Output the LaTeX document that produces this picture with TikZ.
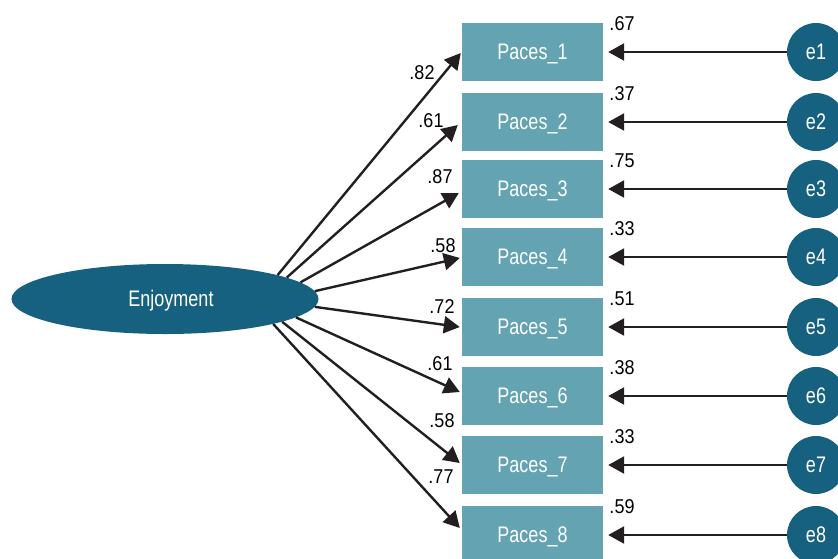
\documentclass[tikz,border=0pt]{standalone}
\usepackage{fontspec}
\setmainfont[FakeStretch=0.8]{Liberation Sans}
\newfontfamily\numfont[FakeStretch=0.9]{Liberation Sans}
\usetikzlibrary{arrows.meta,shapes.geometric}
\definecolor{boxfill}{RGB}{99,163,178}
\definecolor{darkteal}{RGB}{22,96,128}
\definecolor{linec}{RGB}{35,31,32}
\begin{document}
\begin{tikzpicture}[x=1pt,y=1pt,
  wtext/.style={text=white, font=\fontsize{22.5}{26}\selectfont, text height=15.5pt, text depth=0pt},
  obs/.style={rectangle, fill=boxfill, minimum width=141pt, minimum height=58pt, inner sep=0pt, wtext},
  err/.style={circle, fill=darkteal, minimum size=58pt, inner sep=0pt, wtext},
  latent/.style={ellipse, fill=darkteal, minimum width=307pt, minimum height=70pt, inner sep=0pt, wtext},
  pathline/.style={draw=linec, line width=2.4pt, -{Triangle[length=16pt,width=17pt]}},
  coef/.style={font=\numfont\fontsize{20}{24}\selectfont, text=black, inner sep=0pt}
]
\useasboundingbox (0,0) rectangle (838,-558);

\node[latent] (enj) at (165,-299) {\hspace*{12pt}Enjoyment};

\node[obs] (p1) at (532.5,-52) {Paces\_1};
\node[obs] (p2) at (532.5,-122) {Paces\_2};
\node[obs] (p3) at (532.5,-189) {Paces\_3};
\node[obs] (p4) at (532.5,-257) {Paces\_4};
\node[obs] (p5) at (532.5,-327) {Paces\_5};
\node[obs] (p6) at (532.5,-396) {Paces\_6};
\node[obs] (p7) at (532.5,-465) {Paces\_7};
\node[obs] (p8) at (532.5,-535) {Paces\_8};

\node[err] (e1) at (816,-52) {e1};
\node[err] (e2) at (816,-122) {e2};
\node[err] (e3) at (816,-189) {e3};
\node[err] (e4) at (816,-257) {e4};
\node[err] (e5) at (816,-327) {e5};
\node[err] (e6) at (816,-396) {e6};
\node[err] (e7) at (816,-465) {e7};
\node[err] (e8) at (816,-535) {e8};

\draw[pathline] (enj.12.5) -- ([xshift=-1pt,yshift=-1pt]p1.west);
\draw[pathline] (enj.10.6) -- ([xshift=-4pt,yshift=-3pt]p2.west);
\draw[pathline] (enj.7.3) -- ([xshift=-3pt,yshift=-4pt]p3.west);
\draw[pathline] (enj.3.05) -- ([xshift=-2pt,yshift=-1pt]p4.west);
\draw[pathline] (enj.-3.4) -- ([xshift=-2pt]p5.west);
\draw[pathline] (enj.-8.3) -- ([xshift=-2pt,yshift=4pt]p6.west);
\draw[pathline] (enj.-11.1) -- ([xshift=-2pt,yshift=2pt]p7.west);
\draw[pathline] (enj.-13.7) -- ([xshift=-2pt,yshift=7pt]p8.west);

\foreach \i in {1,...,8}{
  \draw[pathline] (e\i) -- ([xshift=5pt]p\i.east);
}

\node[coef] (l1) at (422,-73) {.82};
\node[coef] (l2) at (431,-121) {.61};
\node[coef] (l3) at (440,-177) {.87};
\node[coef] (l4) at (443,-246) {.58};
\node[coef] (l5) at (442,-307) {.72};
\node[coef] (l6) at (440,-364) {.61};
\node[coef] (l7) at (442,-421) {.58};
\node[coef] (l8) at (441,-477) {.77};

\node[coef] (r1) at (622,-24) {.67};
\node[coef] (r2) at (622,-94) {.37};
\node[coef] (r3) at (622,-161) {.75};
\node[coef] (r4) at (622,-229) {.33};
\node[coef] (r5) at (622,-299) {.51};
\node[coef] (r6) at (622,-368) {.38};
\node[coef] (r7) at (622,-437) {.33};
\node[coef] (r8) at (622,-507) {.59};
\end{tikzpicture}
\end{document}
